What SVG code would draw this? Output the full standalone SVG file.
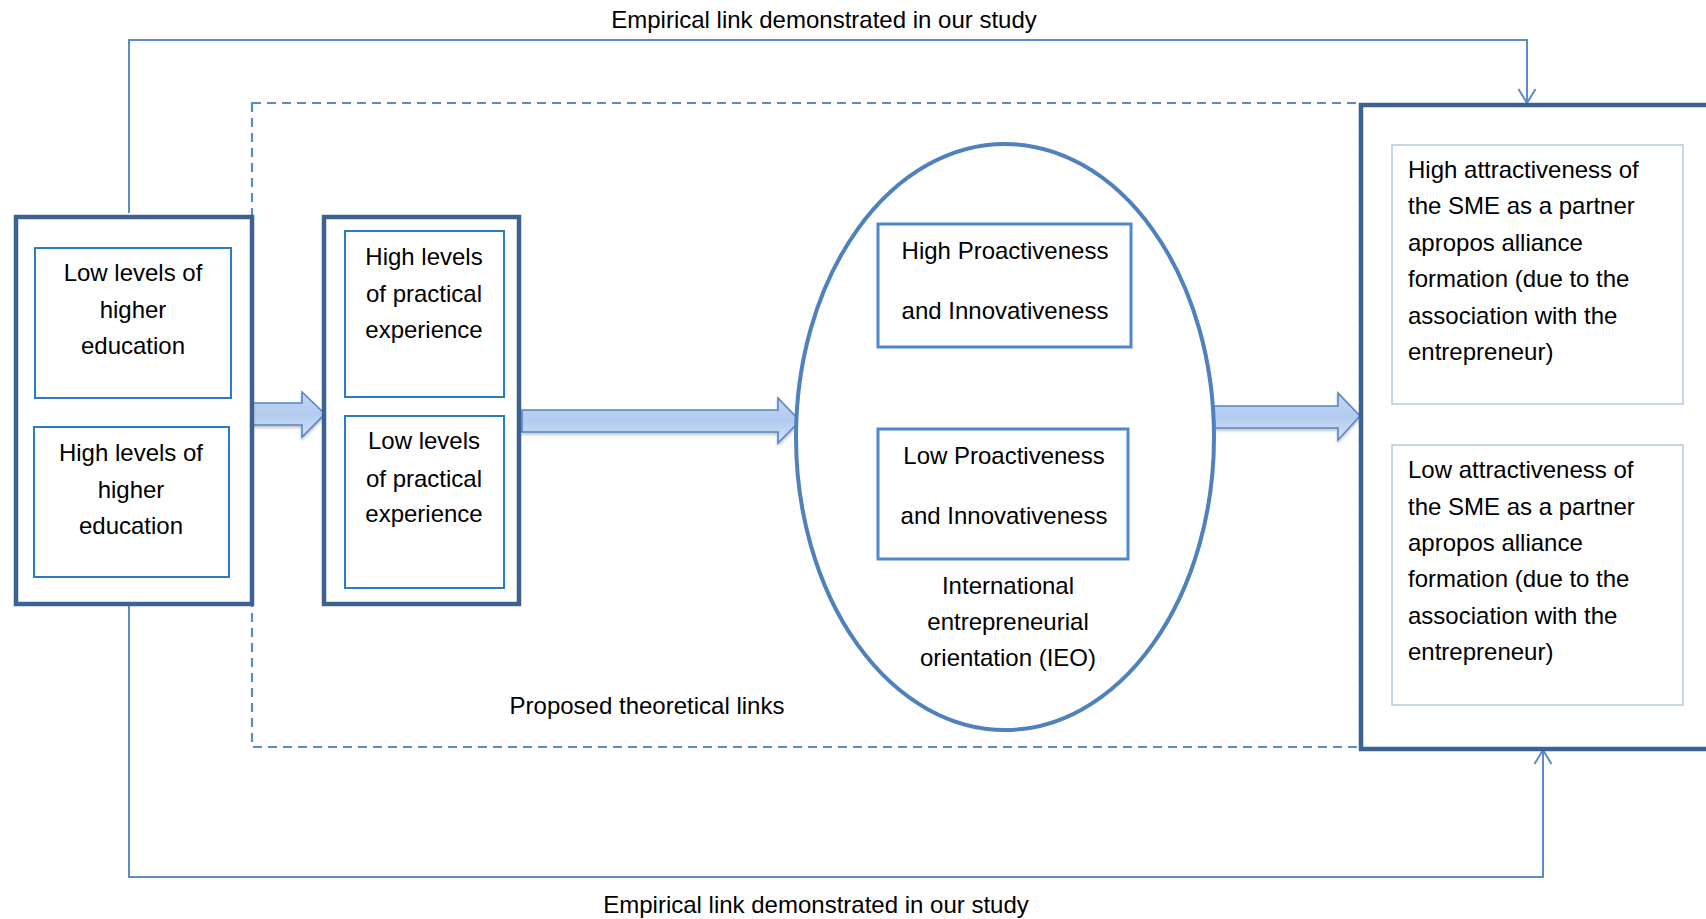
<svg xmlns="http://www.w3.org/2000/svg" width="1706" height="919" viewBox="0 0 1706 919">
<defs>
<style>
text{font-family:"Liberation Sans",Arial,sans-serif;font-size:24px;fill:#000}
.c{text-anchor:middle}
.outer{fill:#fff;stroke:#3d6291;stroke-width:4.5}
.inL{fill:#fff;stroke:#2a7cc7;stroke-width:2}
.inP{fill:#fff;stroke:#4f86cc;stroke-width:3}
.inR{fill:#fff;stroke:#b9cde6;stroke-width:1.6}
.conn{fill:none;stroke:#5b8bc8;stroke-width:2}
.dash{fill:none;stroke:#5b8bc8;stroke-width:2.2;stroke-dasharray:9 6}
.blk{fill:url(#g);stroke:#5685c4;stroke-width:1.6;filter:url(#sh)}
</style>
<linearGradient id="g" x1="0" y1="0" x2="0" y2="1">
<stop offset="0" stop-color="#c2d6f3"/>
<stop offset="0.5" stop-color="#b3cbef"/>
<stop offset="1" stop-color="#d3e2f8"/>
</linearGradient>
<filter id="sh" x="-10%" y="-30%" width="120%" height="160%">
<feDropShadow dx="0" dy="2" stdDeviation="1.5" flood-color="#000" flood-opacity="0.25"/>
</filter>
<marker id="ah" viewBox="0 0 20 20" refX="17" refY="10" markerWidth="20" markerHeight="20" markerUnits="userSpaceOnUse" orient="auto">
<path d="M3,1.5 L17,10 L3,18.5" fill="none" stroke="#5b8bc8" stroke-width="2"/>
</marker>
</defs>
<rect width="1706" height="919" fill="#fff"/>

<g id="connectors">
<rect class="dash" x="252" y="103" width="1108" height="644"/>
<path class="conn" d="M129,213 V40 H1527 V103" marker-end="url(#ah)"/>
<path class="conn" d="M129,605 V877 H1543 V750" marker-end="url(#ah)"/>
<path class="blk" d="M252,403 H302 V392 L325,414 L302,437 V425 H252 Z"/>
<path class="blk" d="M522,410 H778 V398 L800,421 L778,443 V432 H522 Z"/>
<path class="blk" d="M1214,406 H1338 V393 L1360,416 L1338,440 V428 H1214 Z"/>
</g>

<g id="labels">
<text class="c" x="824" y="28">Empirical link demonstrated in our study</text>
<text class="c" x="816" y="913">Empirical link demonstrated in our study</text>
<text class="c" x="647" y="714">Proposed theoretical links</text>
</g>

<g id="education">
<rect class="outer" x="16" y="217" width="236" height="387"/>
<g id="low-education">
<rect class="inL" x="35" y="248" width="196" height="150"/>
<text class="c" x="133" y="281">Low levels of</text>
<text class="c" x="133" y="318">higher</text>
<text class="c" x="133" y="354">education</text>
</g>
<g id="high-education">
<rect class="inL" x="34" y="427" width="195" height="150"/>
<text class="c" x="131" y="461">High levels of</text>
<text class="c" x="131" y="498">higher</text>
<text class="c" x="131" y="534">education</text>
</g>
</g>

<g id="experience">
<rect class="outer" x="324" y="217" width="195" height="387"/>
<g id="high-experience">
<rect class="inL" x="345" y="231" width="159" height="166"/>
<text class="c" x="424" y="265">High levels</text>
<text class="c" x="424" y="302">of practical</text>
<text class="c" x="424" y="338">experience</text>
</g>
<g id="low-experience">
<rect class="inL" x="345" y="416" width="159" height="172"/>
<text class="c" x="424" y="449">Low levels</text>
<text class="c" x="424" y="487">of practical</text>
<text class="c" x="424" y="522">experience</text>
</g>
</g>

<g id="ieo">
<ellipse cx="1005" cy="437" rx="209" ry="293" fill="#fff" stroke="#4f81bd" stroke-width="4"/>
<g id="high-pi">
<rect class="inP" x="878" y="224" width="253" height="123"/>
<text class="c" x="1005" y="259">High Proactiveness</text>
<text class="c" x="1005" y="319">and Innovativeness</text>
</g>
<g id="low-pi">
<rect class="inP" x="878" y="429" width="250" height="130"/>
<text class="c" x="1004" y="464">Low Proactiveness</text>
<text class="c" x="1004" y="524">and Innovativeness</text>
</g>
<text class="c" x="1008" y="594">International</text>
<text class="c" x="1008" y="630">entrepreneurial</text>
<text class="c" x="1008" y="666">orientation (IEO)</text>
</g>

<g id="attractiveness">
<rect class="outer" x="1361" y="105" width="360" height="644" stroke-width="5"/>
<g id="high-attr">
<rect class="inR" x="1392" y="145" width="291" height="259"/>
<text x="1408" y="178">High attractiveness of</text>
<text x="1408" y="214">the SME as a partner</text>
<text x="1408" y="251">apropos alliance</text>
<text x="1408" y="287">formation (due to the</text>
<text x="1408" y="324">association with the</text>
<text x="1408" y="360">entrepreneur)</text>
</g>
<g id="low-attr">
<rect class="inR" x="1392" y="445" width="291" height="260"/>
<text x="1408" y="478">Low attractiveness of</text>
<text x="1408" y="515">the SME as a partner</text>
<text x="1408" y="551">apropos alliance</text>
<text x="1408" y="587">formation (due to the</text>
<text x="1408" y="624">association with the</text>
<text x="1408" y="660">entrepreneur)</text>
</g>
</g>
</svg>
